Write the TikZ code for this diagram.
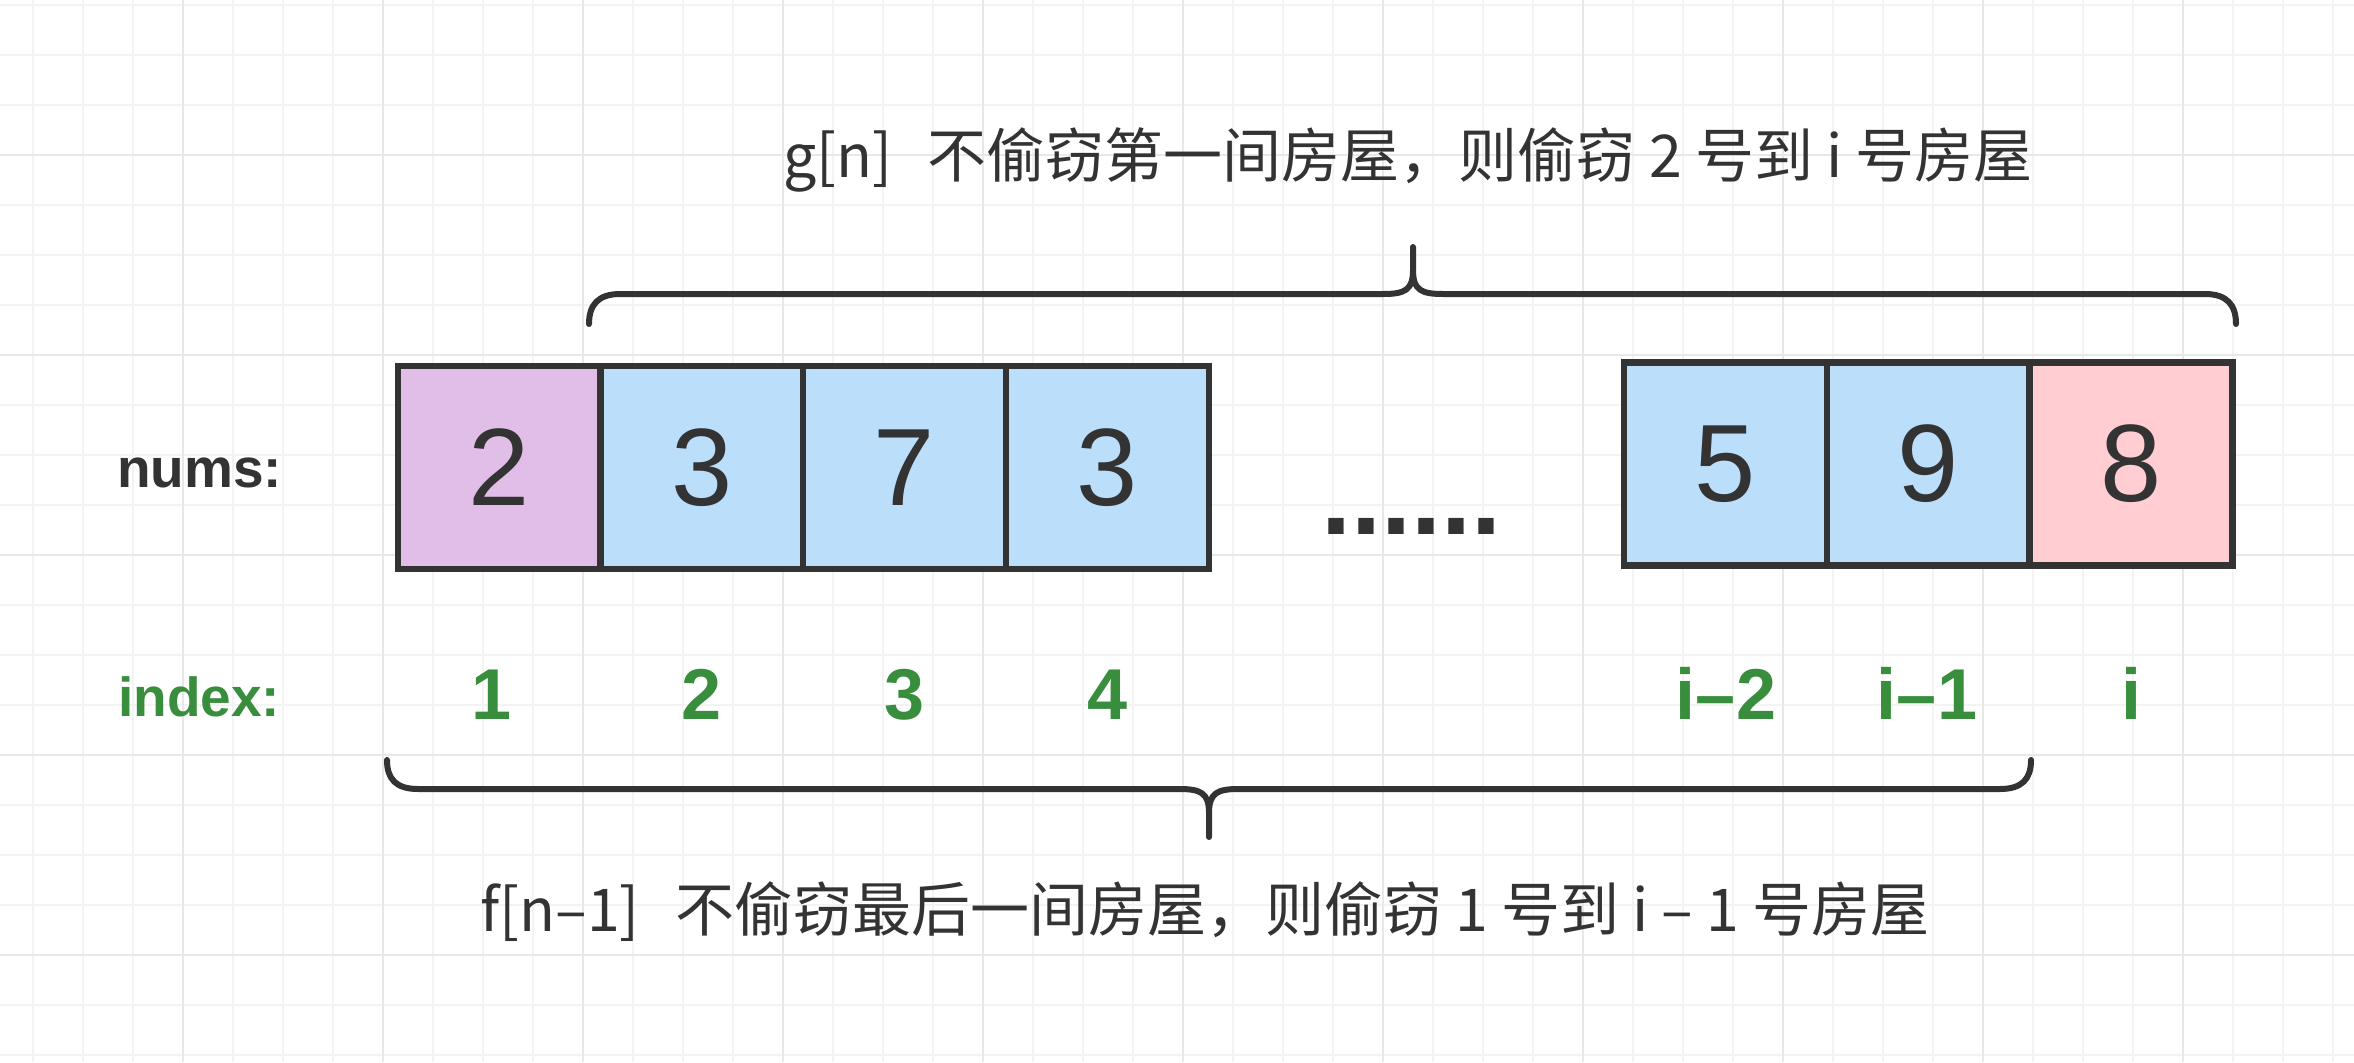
\documentclass[tikz,border=0pt]{standalone}
\usepackage{fontspec}
\setmainfont{Liberation Sans}
\newfontfamily\cjk{Noto Sans CJK SC}
\definecolor{linecol}{HTML}{333333}
\definecolor{purplec}{HTML}{E1BEE7}
\definecolor{bluec}{HTML}{BBDEFB}
\definecolor{pinkc}{HTML}{FFCDD2}
\definecolor{greenc}{HTML}{388E3C}
\definecolor{gridminor}{HTML}{F3F3F3}
\definecolor{gridmajor}{HTML}{E8E8E8}
\tikzset{
  cell/.style={draw=linecol, line width=6.5bp, minimum width=203bp, minimum height=203bp,
    inner sep=0pt, outer sep=0pt, text=linecol, font=\fontsize{110bp}{110bp}\selectfont},
  idx/.style={anchor=base, inner sep=0pt, text=greenc, font=\bfseries\fontsize{72bp}{72bp}\selectfont},
  lbl/.style={anchor=base west, inner sep=0pt, font=\bfseries\fontsize{55bp}{60bp}\selectfont},
  caption/.style={anchor=base, inner sep=0pt, text=linecol, font=\cjk\fontsize{59bp}{70bp}\selectfont},
  brace/.style={draw=linecol, line width=6bp, line join=round, line cap=round},
  gminor/.style={draw=gridminor, line width=2bp},
  gmajor/.style={draw=gridmajor, line width=2.5bp}
}
\begin{document}
\begin{tikzpicture}[x=1bp,y=-1bp]
\useasboundingbox (0,0) rectangle (2354,1062);
\fill[white] (0,0) rectangle (2354,1062);
% grid
\foreach \x in {33,83,...,2333} \draw[gminor] (\x,0) -- (\x,1062);
\foreach \y in {5,55,...,1055} \draw[gminor] (0,\y) -- (2354,\y);
\foreach \x in {183,383,...,2183} \draw[gmajor] (\x,0) -- (\x,1062);
\foreach \y in {155,355,...,955} \draw[gmajor] (0,\y) -- (2354,\y);
% cells
\node[cell, fill=purplec] (n1) at (499.5,467.5) {2};
\node[cell, fill=bluec] (n2) at (702,467.5) {3};
\node[cell, fill=bluec] (n3) at (904.5,467.5) {7};
\node[cell, fill=bluec] (n4) at (1107.5,467.5) {3};
\node[cell, fill=bluec] (n5) at (1725.5,464) {5};
\node[cell, fill=bluec] (n6) at (1928.5,464) {9};
\node[cell, fill=pinkc] (n7) at (2131,464) {8};
% dots
\node[anchor=base, inner sep=0pt, text=linecol, font=\bfseries\fontsize{108bp}{108bp}\selectfont] (dots) at (1411.7,534) {......};
% labels
\node[lbl, text=linecol] (lnums) at (117,487) {nums:};
\node[lbl, text=greenc] (lindex) at (118,716) {index:};
% indices
\node[idx] (i1) at (492,719) {1};
\node[idx] (i2) at (702,719) {2};
\node[idx] (i3) at (904.5,719) {3};
\node[idx] (i4) at (1107.5,719) {4};
\node[idx] (i5) at (1726,719) {i–2};
\node[idx] (i6) at (1927,719) {i–1};
\node[idx] (i7) at (2131,719) {i};
% top brace
\draw[brace] (589,324) .. controls (589,305) and (598,294) .. (620,294) -- (1383,294)
  .. controls (1405,294) and (1413,290) .. (1413,270) -- (1413,247) -- (1413,270)
  .. controls (1413,290) and (1421,294) .. (1443,294) -- (2205,294)
  .. controls (2227,294) and (2236,305) .. (2236,324);
% bottom brace
\draw[brace] (387,760) .. controls (387,779) and (396,789) .. (418,789) -- (1179,789)
  .. controls (1201,789) and (1209,793) .. (1209,813) -- (1209,837) -- (1209,813)
  .. controls (1209,793) and (1217,789) .. (1239,789) -- (2000,789)
  .. controls (2022,789) and (2031,779) .. (2031,760);
% captions
\node[caption] (gtext) at (1408,177) {g[n]\hspace{0.6em}不偷窃第一间房屋，则偷窃 2 号到 i 号房屋};
\node[caption] (ftext) at (1205,931) {f[n–1]\hspace{0.6em}不偷窃最后一间房屋，则偷窃 1 号到 i – 1 号房屋};
\end{tikzpicture}
\end{document}
